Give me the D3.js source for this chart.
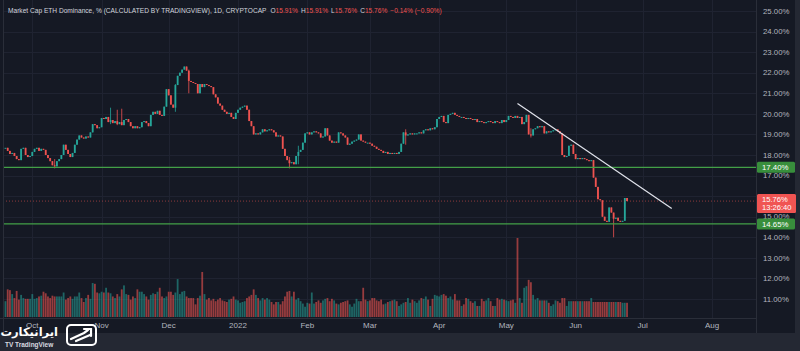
<!DOCTYPE html>
<html>
<head>
<meta charset="utf-8">
<script src="https://cdn.jsdelivr.net/npm/d3@7"></script>
<style>
  html, body { margin: 0; padding: 0; background: #151924; }
  svg { display: block; }
</style>
</head>
<body>
<div id="chart"></div>
<script>
// ---- data (daily closes, ETH dominance %) ----
const startDate = "2021-09-19";
const closeSep = [18.35, 18.2, 18.05, 18.1, 17.95, 17.8, 17.75, 18.3, 18.35, 18.0, 17.9, 17.95];
const closeOct = [18.15, 18.3, 18.35, 18.2, 18.3, 18.25, 18.0, 17.85, 17.7, 17.5, 17.45, 17.7, 17.8, 18.0, 18.5, 18.25,
                  18.05, 17.9, 18.1, 18.5, 18.75, 18.95, 18.85, 18.8, 18.9, 18.85, 19.1, 19.5, 19.45, 19.3, 19.35];
const closeNov = [19.8, 19.75, 19.85, 19.6, 19.7, 19.55, 19.65, 19.5, 19.6, 19.45, 19.7, 19.75, 19.6, 19.4, 19.3,
                  19.4, 19.3, 19.35, 19.6, 19.65, 19.55, 19.4, 19.95, 20.1, 20.0, 20.15, 19.95, 19.9, 20.35, 21.2];
const closeDec = [20.9, 20.45, 20.3, 21.4, 21.85, 22.0, 22.15, 22.3, 22.1, 21.6, 21.55, 21.5, 21.45, 21.0, 21.45, 21.3,
                  21.45, 21.4, 21.35, 21.3, 20.95, 20.8, 20.5, 20.4, 20.2, 20.1, 20.0, 20.05, 19.85, 19.75, 20.05];
const closeJan = [20.2, 20.3, 20.35, 20.4, 20.2, 19.65, 19.4, 19.0, 19.05, 19.0, 19.1, 19.25, 19.15, 19.2, 19.25, 19.2,
                  19.1, 18.9, 18.95, 18.9, 18.3, 17.95, 17.75, 17.6, 17.65, 17.55, 17.95, 18.15, 18.25, 18.6, 19.05];
const closeFeb = [19.1, 19.0, 19.1, 19.15, 19.1, 19.05, 18.85, 18.9, 19.3, 18.95, 18.7, 18.6, 18.65, 18.6, 19.1, 19.05,
                  18.95, 18.85, 18.5, 18.55, 18.65, 18.7, 18.75, 19.0, 18.7, 18.65, 18.6, 18.6];
const closeMar = [18.55, 18.45, 18.4, 18.3, 18.25, 18.2, 18.1, 18.15, 18.05, 18.1, 18.05, 18.1, 18.05, 18.15, 18.55, 19.1,
                  18.95, 19.0, 19.05, 19.0, 19.05, 19.05, 19.1, 19.05, 19.2, 19.25, 19.2, 19.3, 19.25, 19.35, 19.75];
const closeApr = [19.85, 19.9, 19.6, 19.55, 19.95, 20.0, 20.05, 19.95, 19.9, 19.85, 19.85, 19.8, 19.75, 19.8, 19.75,
                  19.7, 19.75, 19.6, 19.65, 19.6, 19.55, 19.6, 19.65, 19.6, 19.55, 19.65, 19.6, 19.55, 19.7, 19.6];
const closeMay = [19.7, 19.9, 19.85, 19.8, 19.9, 19.8, 19.85, 19.5, 19.6, 19.95, 19.0, 18.95, 19.25, 19.3, 19.4, 19.35,
                  19.4, 19.05, 19.15, 19.1, 19.15, 19.2, 19.25, 19.15, 19.05, 18.0, 17.9, 17.95, 18.45, 18.5, 18.05];
const closeJun = [17.8, 17.85, 17.8, 17.85, 17.8, 17.75, 17.7, 17.75, 16.9, 16.45, 15.85, 15.8, 15.0, 14.8, 14.75, 15.45,
                  15.2, 14.9, 14.95, 14.8, 14.75, 14.8, 15.91, 15.76];

// volume (relative units, same day order)
const volSep = [20, 35, 34, 29, 24, 33, 22, 28, 24, 23, 23, 23];
const volOct = [29, 23, 24, 26, 27, 32, 30, 26, 24, 27, 26, 26, 26, 26, 31, 22, 24, 26, 23, 26, 26, 31, 24, 19, 24, 28,
                23, 43, 42, 31, 30];
const volNov = [32, 31, 37, 31, 30, 26, 24, 29, 26, 35, 40, 29, 28, 22, 26, 24, 35, 32, 32, 29, 26, 22, 28, 30, 29, 32,
                37, 26, 24, 26];
const volDec = [32, 32, 28, 31, 48, 29, 32, 33, 26, 24, 24, 24, 16, 24, 27, 57, 29, 22, 24, 21, 23, 20, 22, 24, 21, 20,
                19, 22, 23, 26, 22];
const volJan = [21, 18, 19, 20, 24, 26, 28, 35, 28, 24, 21, 24, 22, 24, 22, 19, 16, 19, 19, 16, 20, 26, 32, 33, 26, 32,
                22, 24, 20, 17, 13];
const volFeb = [18, 17, 31, 17, 19, 21, 18, 21, 23, 24, 20, 23, 21, 17, 16, 18, 19, 20, 21, 16, 13, 17, 23, 20, 20, 37,
                22, 20];
const volMar = [21, 24, 24, 21, 20, 22, 16, 17, 19, 20, 21, 22, 20, 14, 16, 18, 19, 24, 18, 22, 20, 18, 21, 24, 23, 26,
                22, 14, 23, 28, 27];
const volApr = [26, 28, 29, 27, 24, 26, 22, 29, 21, 21, 14, 16, 24, 23, 20, 18, 20, 14, 14, 23, 20, 21, 24, 20, 14, 14,
                24, 22, 23, 22];
const volMay = [21, 20, 21, 22, 18, 100, 24, 18, 37, 39, 47, 44, 28, 22, 24, 21, 21, 21, 21, 18, 14, 16, 21, 20, 18, 24,
                24, 14, 20, 20, 20];
const volJun = [20, 20, 20, 20, 20, 20, 20, 24, 19, 19, 19, 19, 19, 19, 19, 19, 19, 19, 19, 19, 19, 18, 18, 18];

// notable wicks
const wickDates = ["2021-10-11", "2021-11-05", "2021-11-08", "2021-11-10", "2021-12-04", "2021-12-10",
                   "2022-01-24", "2022-01-28", "2022-03-17", "2022-05-12", "2022-06-18"];
const wickHighs = [17.8, 20.3, 20.2, 20.25, 21.45, 22.15, 17.9, 18.45, 19.25, 19.3, 15.0];
const wickLows  = [17.35, 19.5, 19.45, 19.45, 20.1, 21.0, 17.35, 17.55, 18.5, 18.85, 14.0];

const priceTicks = [11, 12, 13, 14, 15, 16, 17, 18, 19, 20, 21, 22, 23, 24, 25];
const levels = [17.40, 14.65];
const lastPrice = 15.76;
const countdown = "13:26:40";
const trendDates = ["2022-05-06", "2022-07-14"];
const trendPrices = [20.5, 15.4];

// ---- build candles ----
const parse = d3.timeParse("%Y-%m-%d");
const closes = [].concat(closeSep, closeOct, closeNov, closeDec, closeJan, closeFeb, closeMar, closeApr, closeMay, closeJun);
const vols = [].concat(volSep, volOct, volNov, volDec, volJan, volFeb, volMar, volApr, volMay, volJun);
const t0 = parse(startDate);
const wickMap = new Map(wickDates.map((d, i) => [d, { h: wickHighs[i], l: wickLows[i] }]));
const fmt = d3.timeFormat("%Y-%m-%d");

const candles = closes.map((c, i) => {
  const date = d3.timeDay.offset(t0, i);
  const o = i === 0 ? c : closes[i - 1];
  const w = wickMap.get(fmt(date));
  return {
    date, o, c,
    h: Math.max(o, c, w ? w.h : 0),
    l: Math.min(o, c, w ? w.l : 99),
    v: vols[i],
    up: c >= o
  };
});

// ---- layout ----
const W = 800, H = 351;
const plotR = 756, axisTop = 318, footTop = 333;
const upCol = "#26a69a", downCol = "#ef5350";

const svg = d3.select("#chart").append("svg").attr("width", W).attr("height", H)
  .style("font-family", "'Liberation Sans', Arial, sans-serif");

svg.append("rect").attr("width", W).attr("height", H).attr("fill", "#151924");
svg.append("rect").attr("x", 0).attr("y", footTop).attr("width", W).attr("height", H - footTop).attr("fill", "#242833");
svg.append("rect").attr("x", 795).attr("y", 0).attr("width", 5).attr("height", H).attr("fill", "#242833");

const x = d3.scaleTime().domain([parse("2022-01-01"), parse("2022-08-01")]).range([238, 712]);
const y = d3.scaleLinear().domain([11, 25]).range([299, 11]);
const yv = d3.scaleLinear().domain([0, 100]).range([317, 238]);

const plot = svg.append("g");
const clip = svg.append("clipPath").attr("id", "pc");
clip.append("rect").attr("x", 3).attr("y", 0).attr("width", plotR - 3).attr("height", axisTop);
plot.attr("clip-path", "url(#pc)");

// grid
const monthTicks = d3.timeMonth.range(x.invert(0), x.invert(plotR));
plot.selectAll(".vg").data(monthTicks).join("line")
  .attr("x1", d => Math.round(x(d)) + 0.5).attr("x2", d => Math.round(x(d)) + 0.5)
  .attr("y1", 0).attr("y2", axisTop).attr("stroke", "#1f2331").attr("stroke-width", 1);
plot.selectAll(".hg").data(priceTicks).join("line")
  .attr("x1", 0).attr("x2", plotR)
  .attr("y1", d => Math.round(y(d)) + 0.5).attr("y2", d => Math.round(y(d)) + 0.5)
  .attr("stroke", "#1f2331").attr("stroke-width", 1);

// volume
const bw = 1.8;
plot.selectAll(".vol").data(candles).join("rect")
  .attr("x", d => x(d.date) - bw / 2).attr("width", bw)
  .attr("y", d => yv(d.v)).attr("height", d => yv(0) - yv(d.v))
  .attr("fill", d => d.up ? "rgba(38,166,154,0.55)" : "rgba(239,83,80,0.6)");

// candles
const cg = plot.selectAll(".candle").data(candles).join("g");
cg.append("line")
  .attr("x1", d => x(d.date)).attr("x2", d => x(d.date))
  .attr("y1", d => y(d.h)).attr("y2", d => y(d.l))
  .attr("stroke", d => d.up ? upCol : downCol).attr("stroke-width", 0.8);
cg.append("rect")
  .attr("x", d => x(d.date) - bw / 2).attr("width", bw)
  .attr("y", d => y(Math.max(d.o, d.c)))
  .attr("height", d => Math.max(1, Math.abs(y(d.o) - y(d.c))))
  .attr("fill", d => d.up ? upCol : downCol);

// horizontal levels
plot.selectAll(".lvl").data(levels).join("line")
  .attr("x1", 0).attr("x2", plotR)
  .attr("y1", d => y(d)).attr("y2", d => y(d))
  .attr("stroke", "#43a047").attr("stroke-width", 1.2);

// last price line
plot.append("line").attr("x1", 0).attr("x2", plotR)
  .attr("y1", y(lastPrice)).attr("y2", y(lastPrice))
  .attr("stroke", downCol).attr("stroke-opacity", 0.55).attr("stroke-dasharray", "1,2");

// trend line
plot.append("line")
  .attr("x1", x(parse(trendDates[0]))).attr("y1", y(trendPrices[0]))
  .attr("x2", x(parse(trendDates[1]))).attr("y2", y(trendPrices[1]))
  .attr("stroke", "#e0e3eb").attr("stroke-width", 1.2);

// axis borders
svg.append("line").attr("x1", plotR + 0.5).attr("x2", plotR + 0.5).attr("y1", 0).attr("y2", footTop)
  .attr("stroke", "#2a2e39");
svg.append("line").attr("x1", 0).attr("x2", plotR).attr("y1", axisTop + 0.5).attr("y2", axisTop + 0.5)
  .attr("stroke", "#2a2e39");
svg.append("line").attr("x1", 3.5).attr("x2", 3.5).attr("y1", 0).attr("y2", footTop)
  .attr("stroke", "#2a2e39");

// price axis labels
svg.selectAll(".pt").data(priceTicks).join("text")
  .attr("x", 763).attr("y", d => y(d)).attr("dy", "0.35em")
  .attr("font-size", 7.8).attr("fill", "#b2b5be")
  .text(d => d.toFixed(2) + "%");

// level label boxes
const lvlG = svg.selectAll(".lb").data(levels).join("g")
  .attr("transform", d => `translate(757,${y(d)})`);
lvlG.append("rect").attr("x", 0).attr("y", -5.5).attr("width", 38).attr("height", 11).attr("rx", 1.5)
  .attr("fill", "#388e3c");
lvlG.append("text").attr("x", 5).attr("dy", "0.35em").attr("font-size", 7.8).attr("fill", "#fff")
  .text(d => d.toFixed(2) + "%");

// last price box
const lp = svg.append("g").attr("transform", `translate(757,${y(lastPrice)})`);
lp.append("rect").attr("x", 0).attr("y", -7).attr("width", 39).attr("height", 19).attr("rx", 1.5)
  .attr("fill", "#f05452");
lp.append("text").attr("x", 5).attr("y", -1.5).attr("dy", "0.35em").attr("font-size", 7.6).attr("fill", "#fff")
  .text(lastPrice.toFixed(2) + "%");
lp.append("text").attr("x", 5).attr("y", 6.5).attr("dy", "0.35em").attr("font-size", 7.6).attr("fill", "#fff")
  .text(countdown);

// time axis
const mfmt = d => d.getMonth() === 0 ? d3.timeFormat("%Y")(d) : d3.timeFormat("%b")(d);
svg.selectAll(".tl").data(monthTicks.filter(d => x(d) > 10 && x(d) < plotR - 10)).join("text")
  .attr("x", d => x(d)).attr("y", 325.5).attr("dy", "0.35em").attr("text-anchor", "middle")
  .attr("font-size", 8).attr("fill", "#b2b5be")
  .text(mfmt);

// title
const title = svg.append("text").attr("x", 8).attr("y", 12.5).attr("font-size", 6.6).attr("fill", "#d1d4dc");
title.append("tspan").text("Market Cap ETH Dominance, % (CALCULATED BY TRADINGVIEW), 1D, CRYPTOCAP");
[["O", "15.91%"], ["H", "15.91%"], ["L", "15.76%"], ["C", "15.76%"]].forEach(([k, v], i) => {
  title.append("tspan").attr("dx", i === 0 ? 4 : 3).text(k);
  title.append("tspan").attr("fill", downCol).text(v);
});
title.append("tspan").attr("dx", 3).attr("fill", downCol).text("\u22120.14% (\u22120.90%)");

// logo
const logo = svg.append("g");
logo.append("text").attr("x", 58).attr("y", 336).attr("text-anchor", "end")
  .attr("font-family", "'DejaVu Sans', sans-serif").attr("font-weight", "bold")
  .attr("font-size", 11.5).attr("fill", "#ffffff").text("ایرانیکارت");
logo.append("text").attr("x", 5).attr("y", 346.5)
  .attr("font-size", 6.5).attr("font-weight", "bold").attr("fill", "#d8dae0").text("TV TradingView");
logo.append("rect").attr("x", 67).attr("y", 325).attr("width", 29).attr("height", 20).attr("rx", 4)
  .attr("fill", "none").attr("stroke", "#ffffff").attr("stroke-width", 2);
logo.append("path").attr("d", "M71,339 L84,333 L88,330 M76,341 L90,335 M84,329 L91,329 L91,336")
  .attr("fill", "none").attr("stroke", "#ffffff").attr("stroke-width", 2.2).attr("stroke-linecap", "round");
</script>
</body>
</html>
